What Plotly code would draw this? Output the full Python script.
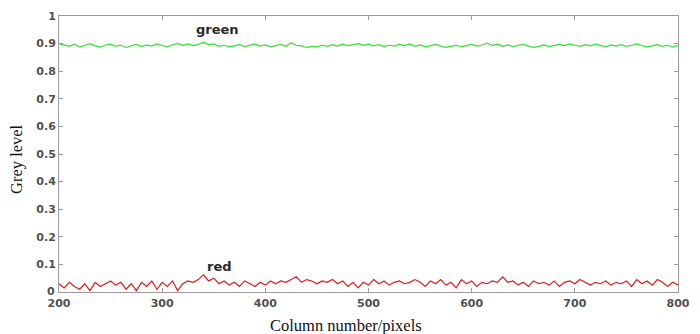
import plotly.graph_objects as go

red = [0.030, 0.015, 0.035, 0.020, 0.010, 0.030, 0.005, 0.035, 0.020, 0.030,
       0.040, 0.025, 0.035, 0.010, 0.030, 0.005, 0.035, 0.020, 0.040, 0.010,
       0.035, 0.020, 0.040, 0.005, 0.030, 0.040, 0.035, 0.045, 0.062, 0.040,
       0.050, 0.030, 0.040, 0.025, 0.035, 0.020, 0.040, 0.030, 0.020, 0.035,
       0.025, 0.040, 0.030, 0.040, 0.035, 0.045, 0.055, 0.035, 0.045, 0.040,
       0.030, 0.040, 0.035, 0.045, 0.030, 0.040, 0.020, 0.035, 0.015, 0.035,
       0.025, 0.045, 0.030, 0.040, 0.025, 0.035, 0.040, 0.030, 0.035, 0.045,
       0.035, 0.020, 0.040, 0.030, 0.045, 0.025, 0.035, 0.015, 0.045, 0.030,
       0.040, 0.020, 0.035, 0.030, 0.040, 0.035, 0.055, 0.035, 0.040, 0.025,
       0.035, 0.020, 0.040, 0.030, 0.035, 0.025, 0.040, 0.020, 0.035, 0.040,
       0.030, 0.045, 0.035, 0.025, 0.035, 0.030, 0.040, 0.025, 0.035, 0.030,
       0.040, 0.020, 0.045, 0.030, 0.040, 0.025, 0.045, 0.035, 0.020, 0.035,
       0.025]

green = [0.900, 0.895, 0.890, 0.898, 0.888, 0.893, 0.900, 0.892, 0.887, 0.895,
         0.898, 0.890, 0.894, 0.886, 0.892, 0.897, 0.889, 0.895, 0.891, 0.899,
         0.893, 0.888, 0.896, 0.901, 0.894, 0.899, 0.893, 0.897, 0.905, 0.896,
         0.899, 0.890, 0.894, 0.888, 0.892, 0.896, 0.889, 0.893, 0.898, 0.891,
         0.895, 0.888, 0.893, 0.897, 0.890, 0.903, 0.894, 0.892, 0.886, 0.890,
         0.888, 0.894, 0.890, 0.896, 0.891, 0.898, 0.893, 0.897, 0.900, 0.894,
         0.898, 0.892, 0.896, 0.889, 0.894, 0.891, 0.897, 0.893, 0.899, 0.890,
         0.895, 0.888, 0.892, 0.897, 0.891, 0.886, 0.890, 0.894, 0.888, 0.893,
         0.897, 0.891, 0.895, 0.902, 0.893, 0.898, 0.890, 0.895, 0.889, 0.894,
         0.897, 0.891, 0.886, 0.890, 0.895, 0.889, 0.892, 0.897, 0.893, 0.899,
         0.894, 0.890, 0.896, 0.892, 0.898, 0.893, 0.888, 0.895, 0.891, 0.896,
         0.890, 0.894, 0.899, 0.893, 0.888, 0.892, 0.896, 0.890, 0.894, 0.887,
         0.893]

x_red = list(range(200, 200 + 5 * len(red), 5))
x_green = list(range(200, 200 + 5 * len(green), 5))

x_ticks = [200, 300, 400, 500, 600, 700, 800]
y_ticks = [0, 0.1, 0.2, 0.3, 0.4, 0.5, 0.6, 0.7, 0.8, 0.9, 1]
y_tick_text = ["", "0.1", "0.2", "0.3", "0.4", "0.5", "0.6", "0.7", "0.8", "0.9", "1"]

tick_font = dict(family="DejaVu Sans", size=11, color="#505050", weight="bold")
label_font = dict(family="DejaVu Sans", size=13, color="#2a2a2a", weight="bold")
title_font = dict(family="Liberation Serif, Times New Roman", size=16.5, color="#111")

fig = go.Figure()
fig.add_trace(go.Scatter(x=x_green, y=green, mode="lines",
                         line=dict(color="#33e033", width=1.2), showlegend=False))
fig.add_trace(go.Scatter(x=x_red, y=red, mode="lines",
                         line=dict(color="#dd1a1a", width=1.2), showlegend=False))

fig.add_annotation(x=354, y=0.952, text="green", showarrow=False, font=label_font)
fig.add_annotation(x=356, y=0.092, text="red", showarrow=False, font=label_font)
# zero label of the y axis
fig.add_annotation(x=0, xref="paper", xanchor="right", xshift=-2,
                   y=0.0, yref="y", yanchor="middle", yshift=1, text="0", showarrow=False,
                   font=tick_font)
# axis titles, placed as in the reference
fig.add_annotation(x=0.4635, xref="paper", y=0, yref="paper", yanchor="middle", yshift=-33,
                   text="Column number/pixels", showarrow=False, font=title_font)
fig.add_annotation(x=0, xref="paper", xanchor="center", xshift=-42,
                   y=0.482, yref="paper", textangle=-90,
                   text="Grey level", showarrow=False, font=title_font)

axis_common = dict(showline=True, linecolor="#9a9a9a", linewidth=1, mirror="ticks",
                   ticks="inside", ticklen=4, tickcolor="#9a9a9a", showgrid=False,
                   zeroline=False, tickfont=tick_font)

fig.update_xaxes(range=[200, 800], tickvals=x_ticks, ticklabelstandoff=1,
                 ticklabeloverflow="allow", **axis_common)
fig.update_yaxes(range=[0, 1], tickvals=y_ticks, ticktext=y_tick_text, **axis_common)

fig.update_layout(width=700, height=334, margin=dict(l=59, r=10, t=16, b=42),
                  plot_bgcolor="white", paper_bgcolor="white")

fig.write_html(
    "out.html",
    config={"displayModeBar": False},
    post_script=("document.body.style.margin='0';"
                 "document.body.style.overflow='hidden';"
                 "document.documentElement.style.overflow='hidden';"),
)
